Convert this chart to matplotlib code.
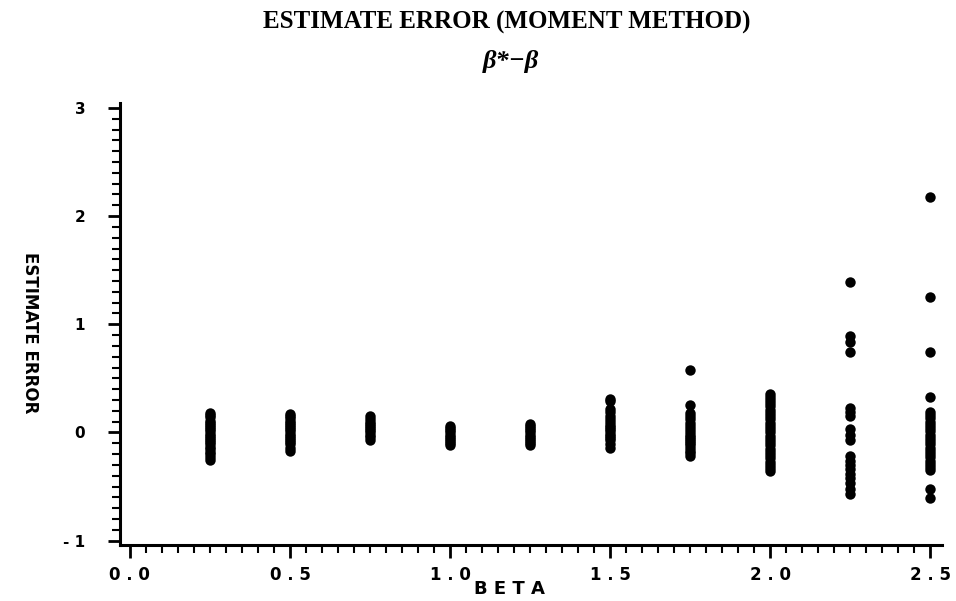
import matplotlib
matplotlib.use("Agg")
import matplotlib.pyplot as plt
from matplotlib.ticker import MultipleLocator, FixedLocator

# ---- data ----
beta_025 = [0.18, 0.16, 0.14, 0.11, 0.09, 0.07, 0.05, 0.03, 0.01, -0.01, -0.03, -0.05,
            -0.07, -0.09, -0.11, -0.13, -0.15, -0.18, -0.20, -0.23, -0.25]
beta_050 = [0.17, 0.15, 0.13, 0.11, 0.09, 0.07, 0.05, 0.03, 0.01, -0.01, -0.03, -0.05,
            -0.07, -0.09, -0.11, -0.14, -0.17]
beta_075 = [0.15, 0.12, 0.10, 0.08, 0.06, 0.04, 0.02, 0.00, -0.02, -0.04, -0.07]
beta_100 = [0.06, 0.04, 0.02, 0.00, -0.02, -0.04, -0.06, -0.08, -0.10, -0.12]
beta_125 = [0.08, 0.06, 0.04, 0.02, 0.00, -0.02, -0.04, -0.06, -0.08, -0.10, -0.12]
beta_150 = [0.31, 0.29, 0.22, 0.19, 0.15, 0.12, 0.10, 0.07, 0.05, 0.03, 0.01, -0.01,
            -0.03, -0.05, -0.07, -0.11, -0.14]
beta_175 = [0.58, 0.25, 0.18, 0.15, 0.12, 0.09, 0.06, 0.03, 0.00, -0.02, -0.04, -0.06,
            -0.08, -0.10, -0.12, -0.14, -0.17, -0.19, -0.22]
beta_200 = [0.36, 0.33, 0.30, 0.27, 0.24, 0.21, 0.18, 0.15, 0.12, 0.09, 0.06, 0.03,
            0.00, -0.03, -0.06, -0.09, -0.12, -0.15, -0.18, -0.21, -0.24, -0.27,
            -0.30, -0.33, -0.36]
beta_225 = [1.39, 0.89, 0.84, 0.74, 0.23, 0.19, 0.15, 0.03, -0.02, -0.07, -0.22, -0.26,
            -0.30, -0.34, -0.38, -0.42, -0.47, -0.52, -0.57]
beta_250 = [2.18, 1.25, 0.74, 0.33, 0.19, 0.16, 0.13, 0.10, 0.07, 0.04, 0.01, -0.02,
            -0.05, -0.08, -0.11, -0.14, -0.17, -0.20, -0.23, -0.26, -0.29, -0.32,
            -0.35, -0.52, -0.61]

beta_levels = [0.25, 0.5, 0.75, 1.0, 1.25, 1.5, 1.75, 2.0, 2.25, 2.5]
errors = [beta_025, beta_050, beta_075, beta_100, beta_125,
          beta_150, beta_175, beta_200, beta_225, beta_250]

x_ticks = [0.0, 0.5, 1.0, 1.5, 2.0, 2.5]
x_tick_labels = ["0 . 0", "0 . 5", "1 . 0", "1 . 5", "2 . 0", "2 . 5"]
y_ticks = [-1, 0, 1, 2, 3]
y_tick_labels = ["- 1", "0", "1", "2", "3"]

title = "ESTIMATE ERROR (MOMENT METHOD)"
subtitle = "\u03b2*\u2212\u03b2"
x_label = "B E T A"
y_label = "ESTIMATE ERROR"

# ---- figure ----
fig = plt.figure(figsize=(9.56, 6.01), dpi=100)
ax = fig.add_axes([0.1255, 0.0932, 0.8595, 0.7354])

for b, errs in zip(beta_levels, errors):
    ax.plot([b] * len(errs), errs, linestyle="none", marker="o",
            markersize=7.5, color="black", markeredgewidth=0)

ax.set_xlim(-0.031, 2.535)
ax.set_ylim(-1.04, 3.045)

for s in ["top", "right"]:
    ax.spines[s].set_visible(False)
for s in ["left", "bottom"]:
    ax.spines[s].set_linewidth(2.2)

ax.xaxis.set_major_locator(FixedLocator(x_ticks))
ax.xaxis.set_minor_locator(MultipleLocator(0.05))
ax.yaxis.set_major_locator(FixedLocator(y_ticks))
ax.yaxis.set_minor_locator(MultipleLocator(0.1))
ax.set_xticklabels(x_tick_labels, fontfamily="DejaVu Sans", fontweight="bold", fontsize=12)
ax.set_yticklabels(y_tick_labels, fontfamily="DejaVu Sans", fontweight="bold", fontsize=11)
ax.tick_params(which="major", direction="out", length=9, width=2)
ax.tick_params(which="minor", direction="out", length=6, width=1.5)
ax.tick_params(axis="y", which="major", pad=16)
ax.tick_params(axis="x", which="major", pad=6)

ax.set_xlabel(x_label, fontfamily="DejaVu Sans", fontweight="bold", fontsize=13, va="center")
ax.xaxis.set_label_coords(0.474, -0.10)
ax.set_ylabel(y_label, fontfamily="DejaVu Sans", fontweight="bold", fontsize=12,
              rotation=-90, va="center")
ax.yaxis.set_label_coords(-0.11, 0.48)

fig.text(0.53, 0.963, title, ha="center", va="center", fontfamily="Liberation Serif",
         fontweight="bold", fontsize=18)
fig.text(0.534, 0.897, subtitle, ha="center", va="center", fontsize=19,
         fontfamily="Liberation Serif", fontweight="bold", fontstyle="italic")

fig.savefig("out.png", dpi=100, facecolor="white")
